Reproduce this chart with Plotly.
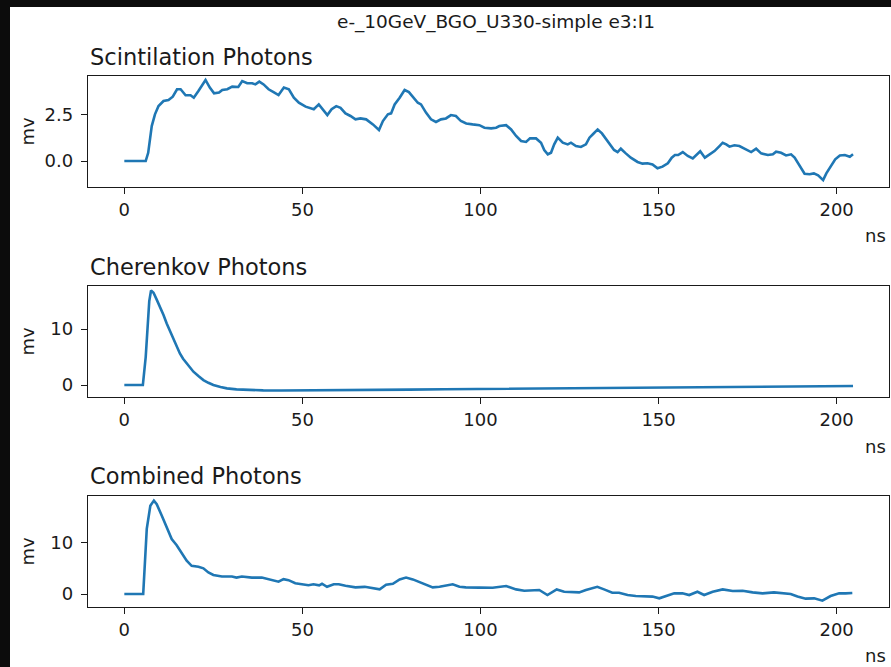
import plotly.graph_objects as go

# ---------------- data ----------------
title_text = "e-_10GeV_BGO_U330-simple e3:I1"
panel_titles = ["Scintilation Photons", "Cherenkov Photons", "Combined Photons"]
x_ticks = [0, 50, 100, 150, 200]

scint_t = [0, 6.0, 6.7, 7.7, 8.6, 9.6, 11.0, 12.4, 13.6, 14.8, 15.8, 17.2, 18.6, 19.5, 20.8, 21.9,
           22.8, 24.0, 25.2, 26.6, 27.5, 28.9, 30.3, 32.0, 33.1, 34.5, 35.9, 36.8, 37.9, 39.1, 40.5,
           41.9, 43.3, 44.8, 46.2, 47.6, 49.0, 50.9, 52.3, 53.2, 54.6, 55.8, 57.0, 58.2, 59.5, 60.7,
           62.1, 63.5, 64.9, 66.3, 67.9, 69.8, 71.5, 72.6, 74.0, 74.9, 75.9, 77.3, 78.7, 79.9, 81.0,
           82.4, 83.3, 84.7, 86.1, 87.5, 88.9, 90.3, 91.7, 93.1, 94.5, 96.0, 97.8, 99.7, 101.1, 103.0,
           104.4, 105.3, 107.2, 108.6, 110.0, 111.4, 112.8, 113.9, 115.6, 117.0, 117.9, 118.9, 119.8,
           120.7, 121.7, 123.1, 124.5, 125.4, 126.8, 128.2, 129.6, 130.6, 131.7, 132.9, 134.1, 135.3,
           136.2, 137.5, 138.5, 139.4, 140.8, 142.2, 144.1, 145.5, 146.9, 148.3, 149.7, 151.1, 152.6,
           153.7, 154.6, 155.5, 156.8, 158.2, 159.6, 160.5, 161.7, 163.0, 164.3, 165.7, 167.1, 168.0,
           169.0, 169.9, 171.3, 172.7, 174.1, 176.0, 177.4, 178.8, 180.7, 182.1, 183.0, 184.4, 185.8,
           187.2, 188.2, 189.6, 191.0, 192.4, 193.6, 194.8, 196.2, 197.1, 198.5, 199.6, 200.9, 202.3,
           203.7, 204.6]
scint_v = [0, 0, 0.44, 1.87, 2.50, 2.94, 3.21, 3.26, 3.44, 3.84, 3.84, 3.52, 3.52, 3.39, 3.75, 4.10,
           4.34, 3.93, 3.62, 3.66, 3.80, 3.84, 3.98, 3.96, 4.28, 4.16, 4.16, 4.10, 4.25, 4.10, 3.84,
           3.69, 3.53, 3.93, 3.84, 3.39, 3.12, 2.91, 2.82, 2.77, 3.03, 2.77, 2.46, 2.77, 2.94, 2.85,
           2.55, 2.41, 2.23, 2.28, 2.23, 1.96, 1.66, 2.14, 2.50, 2.55, 3.03, 3.39, 3.80, 3.69, 3.44,
           3.12, 3.03, 2.59, 2.23, 2.09, 2.23, 2.28, 2.46, 2.41, 2.14, 2.01, 1.96, 1.92, 1.78, 1.75,
           1.78, 1.87, 1.92, 1.69, 1.34, 1.07, 1.02, 1.21, 1.21, 0.98, 0.59, 0.36, 0.44,
           0.89, 1.25, 0.98, 0.89, 0.98, 0.80, 0.75, 0.89, 1.25, 1.46, 1.69, 1.48, 1.16,
           0.89, 0.59, 0.48, 0.66, 0.41, 0.18, -0.05, -0.14, -0.12, -0.18, -0.39, -0.30, -0.12,
           0.18, 0.32, 0.32, 0.48, 0.27, 0.14, 0.30, 0.52, 0.18, 0.36, 0.53, 0.80, 0.98,
           0.89, 0.77, 0.84, 0.80, 0.66, 0.48, 0.66, 0.41, 0.32, 0.36, 0.50, 0.44, 0.30,
           0.36, 0.18, -0.27, -0.68, -0.71, -0.66, -0.77, -1.02, -0.66, -0.27, 0.09, 0.30, 0.32,
           0.23, 0.36]

cher_t = [0, 5.2, 6.0, 6.6, 7.0, 7.5, 8.2, 9.0, 10.0, 11.0, 11.9, 12.9, 13.8, 14.7, 15.6, 16.5,
          17.5, 18.5, 19.4, 20.8, 22.2, 23.6, 25.0, 27.0, 28.8, 31.5, 34.4, 39, 44, 50, 60, 70, 80,
          90, 100, 115, 130, 150, 170, 190, 204.6]
cher_v = [0, 0, 5.0, 11.5, 15.0, 16.9, 16.5, 15.4, 14.0, 12.5, 11.0, 9.5, 8.04, 6.8, 5.65, 4.7,
          3.87, 3.1, 2.38, 1.6, 0.89, 0.4, 0.0, -0.35, -0.6, -0.78, -0.89, -0.96, -0.99, -0.98,
          -0.94, -0.88, -0.82, -0.76, -0.70, -0.61, -0.52, -0.41, -0.32, -0.24, -0.18]

comb_t = [0, 5.3, 6.3, 7.3, 8.3, 9.1, 10.5, 11.9, 13.3, 14.7, 16.1, 17.5, 18.9, 20.8, 22.2, 23.6,
          25.0, 27.4, 30.2, 31.5, 33.0, 35.8, 38.6, 41.4, 43.3, 44.7, 46.1, 48.0, 49.8, 51.7, 53.1,
          54.7, 55.5, 56.9, 58.8, 60.2, 62.1, 64.9, 67.5, 69.5, 71.7, 73.5, 75.4, 77.3, 79.1, 81.0,
          82.9, 84.7, 86.6, 88.5, 90.3, 92.2, 94.1, 95.9, 99.7, 103.4, 107.2, 110.0, 112.3, 114.6,
          116.5, 118.8, 121.4, 123.5, 125.8, 127.7, 129.6, 131.4, 132.8, 134.7, 137.0, 138.9, 141.3,
          143.6, 146.4, 148.3, 150.2, 152.0, 154.4, 156.7, 158.6, 160.9, 162.8, 165.2, 168.0, 170.8,
          173.6, 176.4, 179.2, 182.4, 184.8, 187.1, 189.0, 191.3, 193.7, 196.0, 198.3, 200.7, 202.5,
          204.4]
comb_v = [0, 0, 12.7, 17.2, 18.2, 17.5, 15.3, 13.0, 10.7, 9.5, 8.0, 6.5, 5.5, 5.3, 5.0, 4.2,
          3.7, 3.4, 3.4, 3.2, 3.4, 3.2, 3.2, 2.7, 2.4, 2.9, 2.7, 2.1, 1.9, 1.7, 1.9,
          1.7, 2.0, 1.4, 1.9, 1.9, 1.6, 1.3, 1.4, 1.1, 0.9, 1.8, 2.0, 2.85, 3.2, 2.85,
          2.3, 1.9, 1.3, 1.4, 1.7, 1.9, 1.4, 1.3, 1.25, 1.23, 1.56, 0.9, 0.65, 0.78,
          0.78, -0.2, 0.9, 0.45, 0.45, 0.32, 0.78, 1.1, 1.4, 0.9, 0.26, 0.26, -0.2,
          -0.4, -0.4, -0.5, -0.84, -0.4, 0.13, 0.13, -0.2, 0.45, -0.2, 0.45, 0.9, 0.58,
          0.65, 0.32, 0.13, 0.32, 0.13, 0.0, -0.5, -0.9, -0.84, -1.3, -0.4, 0.13, 0.13,
          0.2]

y_ranges = [[-1.39, 4.55], [-2.14, 17.7], [-2.53, 19.1]]
y_tickvals = [[0, 2.5], [0, 10], [0, 10]]
y_ticktext = [["0.0", "2.5"], ["0", "10"], ["0", "10"]]

# ---------------- layout geometry ----------------
W, H = 891, 667
px_x = lambda p: p / W
px_y = lambda p: 1 - p / H
x_dom = [px_x(88), px_x(889)]
panels_px = [(76, 187), (286, 397), (496, 607)]
title_y_px = [57, 267, 476]
ns_y_px = [236, 446, 655]

FONT = "DejaVu Sans"
LINE = "#1f77b4"

fig = go.Figure()
series = [(scint_t, scint_v), (cher_t, cher_v), (comb_t, comb_v)]
for i, (tt, vv) in enumerate(series):
    fig.add_trace(go.Scatter(x=tt, y=vv, mode="lines", line=dict(color=LINE, width=2.6),
                             xaxis="x" if i == 0 else f"x{i+1}",
                             yaxis="y" if i == 0 else f"y{i+1}",
                             showlegend=False, hoverinfo="skip"))

layout = dict(
    width=W, height=H, margin=dict(l=0, r=0, t=0, b=0, pad=0),
    paper_bgcolor="#0c0c0c", plot_bgcolor="white",
    font=dict(family=FONT, size=18, color="#1a1a1a"),
    showlegend=False,
)
annotations = []
for i, (top, bot) in enumerate(panels_px):
    xa = "xaxis" if i == 0 else f"xaxis{i+1}"
    ya = "yaxis" if i == 0 else f"yaxis{i+1}"
    anchor_x = "y" if i == 0 else f"y{i+1}"
    anchor_y = "x" if i == 0 else f"x{i+1}"
    layout[xa] = dict(domain=x_dom, anchor=anchor_x, range=[-10.2, 214.7],
                      tickvals=x_ticks, ticktext=[str(v) for v in x_ticks],
                      ticks="outside", ticklen=6, tickwidth=1.3, tickcolor="#1a1a1a",
                      showline=True, mirror=True, linecolor="#1a1a1a", linewidth=1.3,
                      showgrid=False, zeroline=False, tickfont=dict(size=18))
    layout[ya] = dict(domain=[px_y(bot), px_y(top)], anchor=anchor_y, range=y_ranges[i],
                      tickvals=y_tickvals[i], ticktext=y_ticktext[i],
                      ticks="outside", ticklen=6, tickwidth=1.3, tickcolor="#1a1a1a",
                      showline=True, mirror=True, linecolor="#1a1a1a", linewidth=1.3,
                      showgrid=False, zeroline=False, tickfont=dict(size=18),
                      ticklabelstandoff=4)
    annotations.append(dict(text=panel_titles[i], x=px_x(88), y=px_y(title_y_px[i]),
                            xref="paper", yref="paper", xanchor="left", yanchor="middle",
                            showarrow=False, font=dict(size=22.5)))
    annotations.append(dict(text="ns", x=px_x(888), y=px_y(ns_y_px[i]),
                            xref="paper", yref="paper", xanchor="right", yanchor="middle",
                            showarrow=False, font=dict(size=18)))
    annotations.append(dict(text="mv", x=px_x(27), y=px_y((top + bot) / 2),
                            xref="paper", yref="paper", xanchor="center", yanchor="middle",
                            textangle=-90, showarrow=False, font=dict(size=18)))
annotations.append(dict(text=title_text, x=px_x(496), y=px_y(22), xref="paper", yref="paper",
                        xanchor="center", yanchor="middle", showarrow=False,
                        font=dict(size=18.5)))
layout["annotations"] = annotations
layout["shapes"] = [dict(type="rect", xref="paper", yref="paper", x0=px_x(10), x1=1,
                         y0=0, y1=px_y(7), fillcolor="white", line=dict(width=0),
                         layer="below")]
fig.update_layout(**layout)
fig.write_html("out.html")
